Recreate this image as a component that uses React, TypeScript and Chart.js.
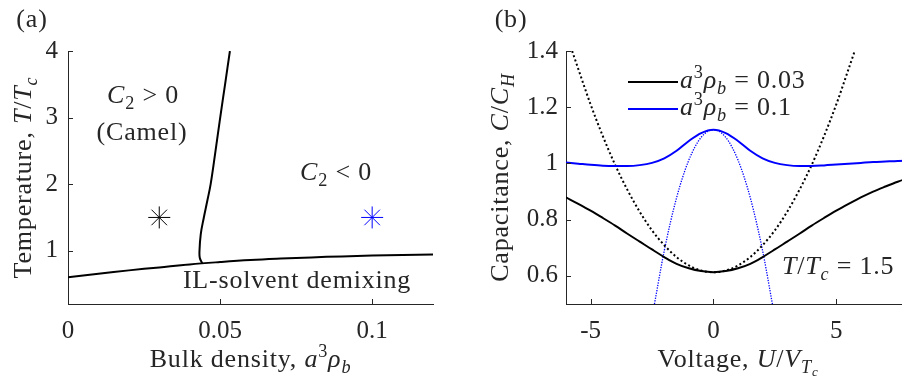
import React, { useEffect, useRef } from 'react';
import { Chart, registerables } from 'chart.js';

Chart.register(...registerables);

const FONT = '"Liberation Serif", "DejaVu Serif", serif';
const AX = '#262626';
const BLUE = '#0000ff';
const FS = 26;
const FS_TICK = 25;

// ---------- Panel (a): phase diagram ----------
const demixDensity = [0, 0.01, 0.02, 0.03, 0.04, 0.05, 0.06, 0.07, 0.08, 0.09, 0.1, 0.11, 0.12];
const demixTemp = [0.6, 0.655, 0.705, 0.75, 0.795, 0.83, 0.86, 0.882, 0.9, 0.915, 0.927, 0.937, 0.945];
const camelDensity = [0.0441, 0.04334, 0.04323, 0.04365, 0.04466, 0.0458, 0.0469, 0.0485, 0.05004, 0.05164, 0.05323];
const camelTemp = [0.815, 0.89, 1.0, 1.25, 1.5, 1.75, 2.0, 2.5, 3.0, 3.5, 4.0];
const markerDensity = [0.03, 0.1];
const markerTemp = [1.5, 1.5];
const aXTicks = [0, 0.05, 0.1];
const aYTicks = [1, 2, 3, 4];

// ---------- Panel (b): capacitance ----------
const voltage = [-6, -5.5, -5, -4.5, -4, -3.5, -3, -2.5, -2, -1.5, -1, -0.5, 0, 0.5, 1, 1.5, 2, 2.5, 3, 3.5, 4, 4.5, 5, 5.5, 6, 6.5, 7, 7.5, 8];
const cap003 = [0.879, 0.856, 0.832, 0.806, 0.779, 0.75, 0.722, 0.694, 0.667, 0.643, 0.627, 0.617, 0.613, 0.617, 0.627, 0.643, 0.667, 0.694, 0.722, 0.75, 0.779, 0.806, 0.832, 0.856, 0.879, 0.9, 0.918, 0.935, 0.95];
const cap01 = [1.003, 0.999, 0.995, 0.992, 0.991, 0.991, 0.994, 1.002, 1.018, 1.045, 1.08, 1.108, 1.12, 1.108, 1.08, 1.045, 1.018, 1.002, 0.994, 0.991, 0.991, 0.993, 0.996, 0.999, 1.002, 1.005, 1.007, 1.009, 1.01];
const wideVoltage = [-5.75, -5.5, -5, -4.5, -4, -3.5, -3, -2.5, -2, -1.5, -1, -0.5, 0, 0.5, 1, 1.5, 2, 2.5, 3, 3.5, 4, 4.5, 5, 5.5, 5.75];
const wideCap003 = [1.4, 1.336, 1.21, 1.097, 0.995, 0.906, 0.828, 0.762, 0.709, 0.667, 0.637, 0.619, 0.613, 0.619, 0.637, 0.667, 0.709, 0.762, 0.828, 0.906, 0.995, 1.097, 1.21, 1.336, 1.4];
const narrowVoltage = [-2.4, -2, -1.5, -1, -0.5, 0, 0.5, 1, 1.5, 2, 2.4];
const narrowCap01 = [0.5, 0.69, 0.878, 1.012, 1.093, 1.12, 1.093, 1.012, 0.878, 0.69, 0.5];
const bXTicks = [-5, 0, 5];
const bYTicks = [0.6, 0.8, 1, 1.2, 1.4];

type Seg = { t: string; i?: boolean; sc?: number; dy?: number };

const SUB = { sc: 0.7, dy: 0.22 };
const SUP = { sc: 0.7, dy: -0.4 };

function segFont(s: Seg, size: number) {
  const sz = size * (s.sc ?? 1);
  return `${s.i ? 'italic ' : ''}${sz}px ${FONT}`;
}
function richWidth(ctx: CanvasRenderingContext2D, segs: Seg[], size: number) {
  let w = 0;
  for (const s of segs) {
    ctx.font = segFont(s, size);
    w += ctx.measureText(s.t).width;
  }
  return w;
}
function drawRich(
  ctx: CanvasRenderingContext2D,
  segs: Seg[],
  x: number,
  y: number,
  align: 'left' | 'center' | 'right' = 'left',
  angle = 0,
  color = AX,
  size = FS
) {
  ctx.save();
  (ctx as any).letterSpacing = '0.8px';
  ctx.translate(x, y);
  ctx.rotate(angle);
  const w = richWidth(ctx, segs, size);
  let cx = align === 'center' ? -w / 2 : align === 'right' ? -w : 0;
  ctx.fillStyle = color;
  ctx.textBaseline = 'alphabetic';
  ctx.textAlign = 'left';
  for (const s of segs) {
    ctx.font = segFont(s, size);
    ctx.fillText(s.t, cx, (s.dy ?? 0) * size);
    cx += ctx.measureText(s.t).width;
  }
  ctx.restore();
}

const inwardTicks = {
  id: 'inwardTicks',
  afterDatasetsDraw(chart: any) {
    const { ctx, chartArea } = chart;
    const xs = chart.scales.x;
    const ys = chart.scales.y;
    ctx.save();
    ctx.strokeStyle = AX;
    ctx.lineWidth = 1;
    ctx.beginPath();
    for (const t of xs.ticks) {
      const px = Math.round(xs.getPixelForValue(t.value)) + 0.5;
      ctx.moveTo(px, chartArea.bottom);
      ctx.lineTo(px, chartArea.bottom - 5);
    }
    for (const t of ys.ticks) {
      const py = Math.round(ys.getPixelForValue(t.value)) + 0.5;
      ctx.moveTo(chartArea.left, py);
      ctx.lineTo(chartArea.left + 5, py);
    }
    ctx.stroke();
    ctx.restore();
  },
};

function fixedTicks(values: number[]) {
  return (scale: any) => {
    scale.ticks = values.map((v) => ({ value: v }));
  };
}

function baseScale(min: number, max: number, ticks: number[], size: { w?: number; h?: number }, pad: number) {
  return {
    type: 'linear' as const,
    min,
    max,
    afterBuildTicks: fixedTicks(ticks),
    afterFit: (scale: any) => {
      if (size.w !== undefined) scale.width = size.w;
      if (size.h !== undefined) scale.height = size.h;
    },
    grid: { display: false, drawTicks: false },
    border: { display: true, color: AX, width: 1 },
    ticks: {
      color: AX,
      padding: pad,
      font: { family: FONT, size: FS_TICK },
      maxRotation: 0,
      autoSkip: false,
      callback: (v: any) => String(v),
    },
  };
}

const pts = (xs: number[], ys: number[]) => xs.map((x, k) => ({ x, y: ys[k] }));

const textA = {
  id: 'textA',
  afterDraw(chart: any) {
    const { ctx, chartArea } = chart;
    const cx = (chartArea.left + chartArea.right) / 2;
    const cy = (chartArea.top + chartArea.bottom) / 2;
    drawRich(ctx, [{ t: '(a)' }], 32, 27, 'center');
    drawRich(
      ctx,
      [{ t: 'Bulk density, ' }, { t: 'a', i: true }, { t: '3', ...SUP }, { t: 'ρ', i: true }, { t: 'b', i: true, ...SUB }],
      cx,
      367,
      'center'
    );
    drawRich(
      ctx,
      [{ t: 'Temperature, ' }, { t: 'T', i: true }, { t: '/' }, { t: 'T', i: true }, { t: 'c', i: true, ...SUB }],
      31,
      cy,
      'center',
      -Math.PI / 2
    );
    drawRich(ctx, [{ t: 'C', i: true }, { t: '2', ...SUB }, { t: ' > 0' }], 143, 103, 'center');
    drawRich(ctx, [{ t: '(Camel)' }], 142, 140, 'center');
    drawRich(ctx, [{ t: 'C', i: true }, { t: '2', ...SUB }, { t: ' < 0' }], 336, 180, 'center');
    drawRich(ctx, [{ t: 'IL-solvent demixing' }], 297, 288, 'center');
  },
};

const legendSegs: Seg[][] = [
  [{ t: 'a', i: true }, { t: '3', ...SUP }, { t: 'ρ', i: true }, { t: 'b', i: true, ...SUB }, { t: ' = 0.03' }],
  [{ t: 'a', i: true }, { t: '3', ...SUP }, { t: 'ρ', i: true }, { t: 'b', i: true, ...SUB }, { t: ' = 0.1' }],
];

const textB = {
  id: 'textB',
  afterDraw(chart: any) {
    const { ctx, chartArea } = chart;
    const cx = (chartArea.left + chartArea.right) / 2;
    const cy = (chartArea.top + chartArea.bottom) / 2;
    drawRich(ctx, [{ t: '(b)' }], 61, 27, 'center');
    drawRich(
      ctx,
      [{ t: 'Voltage, ' }, { t: 'U', i: true }, { t: '/' }, { t: 'V', i: true }, { t: 'T', i: true, ...SUB }, { t: 'c', i: true, sc: 0.5, dy: 0.34 }],
      cx,
      367,
      'center'
    );
    drawRich(
      ctx,
      [{ t: 'Capacitance, ' }, { t: 'C', i: true }, { t: '/' }, { t: 'C', i: true }, { t: 'H', i: true, ...SUB }],
      58,
      cy,
      'center',
      -Math.PI / 2
    );
    // legend from first two datasets
    const rowsY = [82, 109];
    chart.data.datasets.slice(0, 2).forEach((ds: any, k: number) => {
      ctx.save();
      ctx.strokeStyle = ds.borderColor;
      ctx.lineWidth = ds.borderWidth;
      ctx.beginPath();
      ctx.moveTo(178, rowsY[k]);
      ctx.lineTo(228, rowsY[k]);
      ctx.stroke();
      ctx.restore();
      drawRich(ctx, legendSegs[k], 230, rowsY[k] + 6, 'left');
    });
    drawRich(
      ctx,
      [{ t: 'T', i: true }, { t: '/' }, { t: 'T', i: true }, { t: 'c', i: true, ...SUB }, { t: ' = 1.5' }],
      332,
      274,
      'left'
    );
  },
};

const configA: any = {
  type: 'scatter',
  data: {
    datasets: [
      {
        label: 'demixing boundary',
        data: pts(demixDensity, demixTemp),
        showLine: true,
        borderColor: '#000',
        borderWidth: 2,
        pointRadius: 0,
        tension: 0.4,
      },
      {
        label: 'C2 = 0 boundary',
        data: pts(camelDensity, camelTemp),
        showLine: true,
        borderColor: '#000',
        borderWidth: 2,
        pointRadius: 0,
        tension: 0.4,
      },
      {
        label: 'a3ρb = 0.03',
        data: [{ x: markerDensity[0], y: markerTemp[0] }],
        pointStyle: 'star',
        pointRadius: 11,
        borderColor: '#000',
        backgroundColor: '#000',
        borderWidth: 1,
      },
      {
        label: 'a3ρb = 0.1',
        data: [{ x: markerDensity[1], y: markerTemp[1] }],
        pointStyle: 'star',
        pointRadius: 11,
        borderColor: BLUE,
        backgroundColor: BLUE,
        borderWidth: 1,
      },
    ],
  },
  options: {
    responsive: false,
    animation: false,
    events: [],
    layout: { padding: { left: 0, right: 17, top: 51, bottom: 0 } },
    plugins: { legend: { display: false }, tooltip: { enabled: false } },
    scales: {
      x: baseScale(0, 0.12, aXTicks, { h: 76 }, 12),
      y: baseScale(0.2, 4, aYTicks, { w: 68 }, 10),
    },
  },
  plugins: [inwardTicks, textA],
};

const configB: any = {
  type: 'scatter',
  data: {
    datasets: [
      {
        label: 'a3ρb = 0.03',
        data: pts(voltage, cap003),
        showLine: true,
        borderColor: '#000',
        borderWidth: 2,
        pointRadius: 0,
        cubicInterpolationMode: 'monotone',
      },
      {
        label: 'a3ρb = 0.1',
        data: pts(voltage, cap01),
        showLine: true,
        borderColor: BLUE,
        borderWidth: 2,
        pointRadius: 0,
        cubicInterpolationMode: 'monotone',
      },
      {
        label: 'a3ρb = 0.03 (small-voltage)',
        data: pts(wideVoltage, wideCap003),
        showLine: true,
        borderColor: '#000',
        borderWidth: 2,
        borderDash: [2, 2.5],
        pointRadius: 0,
        cubicInterpolationMode: 'monotone',
      },
      {
        label: 'a3ρb = 0.1 (small-voltage)',
        data: pts(narrowVoltage, narrowCap01),
        showLine: true,
        borderColor: BLUE,
        borderWidth: 1.3,
        borderDash: [1.3, 1.3],
        pointRadius: 0,
        cubicInterpolationMode: 'monotone',
      },
    ],
  },
  options: {
    responsive: false,
    animation: false,
    events: [],
    layout: { padding: { left: 0, right: 2, top: 51, bottom: 0 } },
    plugins: { legend: { display: false }, tooltip: { enabled: false } },
    scales: {
      x: baseScale(-6, 8, bXTicks, { h: 76 }, 12),
      y: baseScale(0.5, 1.4, bYTicks, { w: 116 }, 8),
    },
  },
  plugins: [inwardTicks, textB],
};

export default function App() {
  const refA = useRef<HTMLCanvasElement>(null);
  const refB = useRef<HTMLCanvasElement>(null);
  useEffect(() => {
    const a = new Chart(refA.current as HTMLCanvasElement, configA);
    const b = new Chart(refB.current as HTMLCanvasElement, configB);
    return () => {
      a.destroy();
      b.destroy();
    };
  }, []);
  return (
    <div
      style={{
        position: 'absolute',
        left: 0,
        top: 0,
        width: 902,
        height: 380,
        overflow: 'hidden',
        background: '#fff',
      }}
    >
      <canvas
        ref={refA}
        width={450}
        height={380}
        style={{ position: 'absolute', left: 0, top: 0, width: 450, height: 380 }}
      />
      <canvas
        ref={refB}
        width={462}
        height={380}
        style={{ position: 'absolute', left: 450, top: 0, width: 462, height: 380 }}
      />
    </div>
  );
}
